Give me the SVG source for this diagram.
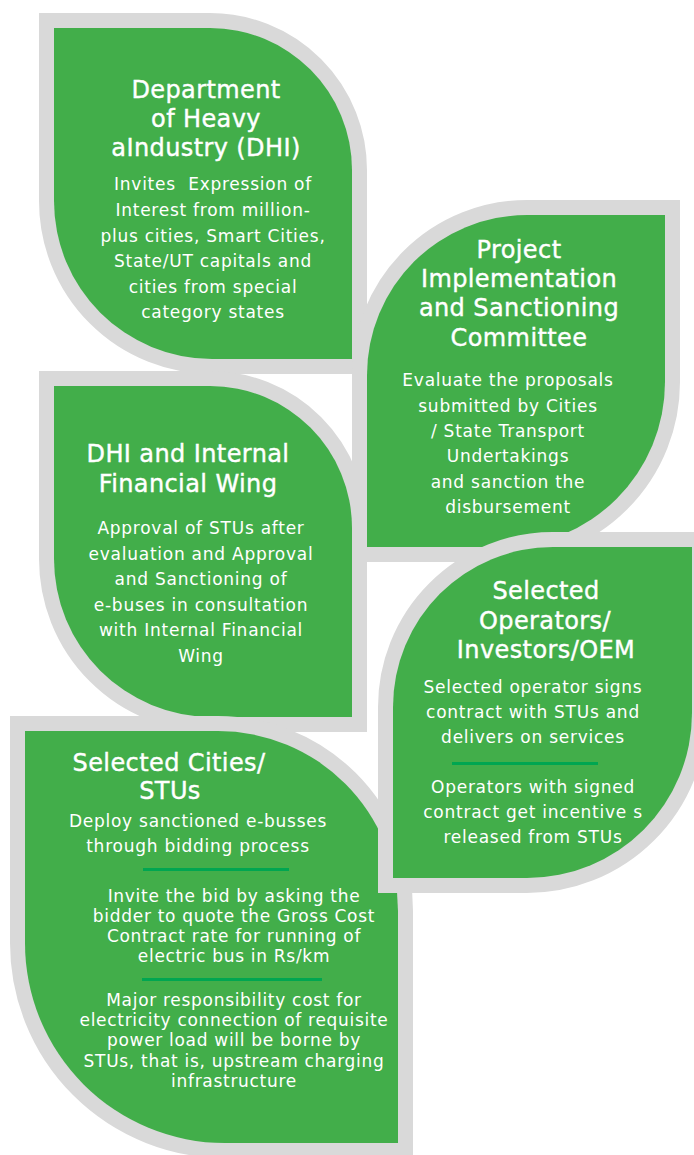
<svg xmlns="http://www.w3.org/2000/svg" width="694" height="1155" viewBox="0 0 694 1155">
  <style>
    .leaf { fill: #42ae4a; stroke: #d9d9d9; stroke-width: 30; paint-order: stroke; stroke-linejoin: miter; }
    .title { font-family: "DejaVu Sans", "Open Sans", sans-serif; font-size: 24px; fill: #ffffff; stroke: #ffffff; stroke-width: 0.4; text-anchor: middle; letter-spacing: 0.4px; }
    .body { font-family: "DejaVu Sans", "Open Sans", sans-serif; font-size: 17px; fill: #ffffff; text-anchor: middle; letter-spacing: 0.75px; }
    .small { letter-spacing: 0.7px; }
    .rule { stroke: #00a651; stroke-width: 3; }
  </style>
  <rect width="694" height="1155" fill="#ffffff"/>

  <!-- Department of Heavy Industry -->
  <g id="dhi">
    <path class="leaf" d="M54,28 H210 A142,142 0 0 1 352,170 V359 H212 A158,158 0 0 1 54,201 Z"/>
    <text class="title" x="206" y="98">Department</text>
    <text class="title" x="206" y="127">of Heavy</text>
    <text class="title" x="206" y="156">aIndustry (DHI)</text>
    <text class="body" x="213" y="190" xml:space="preserve">Invites  Expression of</text>
    <text class="body" x="213" y="216">Interest from million-</text>
    <text class="body" x="213" y="242">plus cities, Smart Cities,</text>
    <text class="body" x="213" y="267">State/UT capitals and</text>
    <text class="body" x="213" y="293">cities from special</text>
    <text class="body" x="213" y="318">category states</text>
  </g>

  <!-- Project Implementation and Sanctioning Committee -->
  <g id="pisc">
    <path class="leaf" d="M527,215 H665 V382 A165,165 0 0 1 500,547 H367 V375 A160,160 0 0 1 527,215 Z"/>
    <text class="title" x="519" y="258">Project</text>
    <text class="title" x="519" y="287">Implementation</text>
    <text class="title" x="519" y="316">and Sanctioning</text>
    <text class="title" x="519" y="346">Committee</text>
    <text class="body" x="508" y="386">Evaluate the proposals</text>
    <text class="body" x="508" y="412">submitted by Cities</text>
    <text class="body" x="508" y="437">/ State Transport</text>
    <text class="body" x="508" y="462">Undertakings</text>
    <text class="body" x="508" y="488">and sanction the</text>
    <text class="body" x="508" y="513">disbursement</text>
  </g>

  <!-- DHI and Internal Financial Wing -->
  <g id="ifw">
    <path class="leaf" d="M54,386 H210 A142,142 0 0 1 352,528 V717 H212 A158,158 0 0 1 54,559 Z"/>
    <text class="title" x="188" y="462">DHI and Internal</text>
    <text class="title" x="188" y="492">Financial Wing</text>
    <text class="body" x="201" y="534">Approval of STUs after</text>
    <text class="body" x="201" y="560">evaluation and Approval</text>
    <text class="body" x="201" y="585">and Sanctioning of</text>
    <text class="body" x="201" y="611">e-buses in consultation</text>
    <text class="body" x="201" y="636">with Internal Financial</text>
    <text class="body" x="201" y="662">Wing</text>
  </g>

  <!-- Selected Cities / STUs -->
  <g id="stus">
    <path class="leaf" d="M25,731 H218 A180,180 0 0 1 398,911 V1143 H225 A200,200 0 0 1 25,943 Z"/>
    <text class="title" x="169" y="771">Selected Cities/</text>
    <text class="title" x="170" y="799">STUs</text>
    <text class="body" x="198" y="827">Deploy sanctioned e-busses</text>
    <text class="body" x="198" y="852">through bidding process</text>
    <line class="rule" x1="143" y1="869.5" x2="289" y2="869.5"/>
    <text class="body small" x="234" y="902">Invite the bid by asking the</text>
    <text class="body small" x="234" y="922">bidder to quote the Gross Cost</text>
    <text class="body small" x="234" y="942">Contract rate for running of</text>
    <text class="body small" x="234" y="962">electric bus in Rs/km</text>
    <line class="rule" x1="142" y1="979.5" x2="322" y2="979.5"/>
    <text class="body small" x="234" y="1006">Major responsibility cost for</text>
    <text class="body small" x="234" y="1026">electricity connection of requisite</text>
    <text class="body small" x="234" y="1046">power load will be borne by</text>
    <text class="body small" x="234" y="1067">STUs, that is, upstream charging</text>
    <text class="body small" x="234" y="1087">infrastructure</text>
  </g>

  <!-- Selected Operators / Investors / OEM -->
  <g id="operators">
    <path class="leaf" d="M553,547 H692 V713 A165,165 0 0 1 527,878 H393 V707 A160,160 0 0 1 553,547 Z"/>
    <text class="title" x="546" y="599">Selected</text>
    <text class="title" x="545" y="629">Operators/</text>
    <text class="title" x="546" y="658">Investors/OEM</text>
    <text class="body" x="533" y="693">Selected operator signs</text>
    <text class="body" x="533" y="718">contract with STUs and</text>
    <text class="body" x="533" y="743">delivers on services</text>
    <line class="rule" x1="452" y1="763.5" x2="598" y2="763.5"/>
    <text class="body" x="533" y="793">Operators with signed</text>
    <text class="body" x="533" y="818">contract get incentive s</text>
    <text class="body" x="533" y="843">released from STUs</text>
  </g>

  <!-- no connectors between the leaves -->
  <g id="connectors"/>
</svg>
